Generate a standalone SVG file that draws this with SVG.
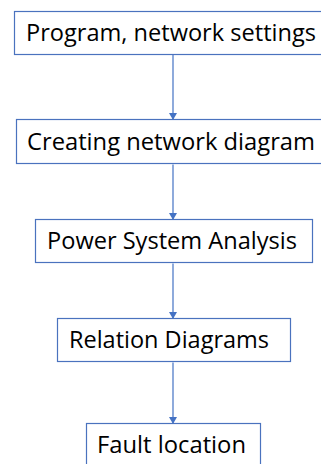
<svg xmlns="http://www.w3.org/2000/svg" width="321" height="464" viewBox="0 0 321 464">
<defs>
<style>
.box{fill:#fff;stroke:#4A72BE;stroke-width:1.2}
.lbl{font-family:"Open Sans","Noto Sans",sans-serif;font-size:23.5px;fill:#000}
.conn{stroke:#4472C4;stroke-width:1.2;fill:none}
</style>
<marker id="ah" markerWidth="7" markerHeight="8" refX="6" refY="4" orient="auto" markerUnits="userSpaceOnUse" viewBox="0 0 7 8">
<path d="M0,0 L7,4 L0,8 Z" fill="#4472C4"/>
</marker>
</defs>
<rect width="321" height="464" fill="#fff"/>
<g id="connectors">
<line class="conn" x1="173" y1="54.5" x2="173" y2="119" marker-end="url(#ah)"/>
<line class="conn" x1="173" y1="164.5" x2="173" y2="219" marker-end="url(#ah)"/>
<line class="conn" x1="173" y1="263.5" x2="173" y2="318" marker-end="url(#ah)"/>
<line class="conn" x1="173" y1="362.5" x2="173" y2="423" marker-end="url(#ah)"/>
</g>
<g id="n1">
<rect class="box" x="14.5" y="11.5" width="320" height="43"/>
<text class="lbl" x="26" y="41" textLength="290" lengthAdjust="spacingAndGlyphs">Program, network settings</text>
</g>
<g id="n2">
<rect class="box" x="16.5" y="119.5" width="320" height="44"/>
<text class="lbl" x="27" y="150" textLength="288" lengthAdjust="spacingAndGlyphs">Creating network diagram</text>
</g>
<g id="n3">
<rect class="box" x="35.5" y="219.5" width="277" height="43"/>
<text class="lbl" x="47" y="249" textLength="250" lengthAdjust="spacingAndGlyphs">Power System Analysis</text>
</g>
<g id="n4">
<rect class="box" x="57.5" y="318.5" width="233" height="43"/>
<text class="lbl" x="69" y="348" textLength="200" lengthAdjust="spacingAndGlyphs">Relation Diagrams</text>
</g>
<g id="n5">
<rect class="box" x="86.5" y="423.5" width="174" height="50"/>
<text class="lbl" x="97" y="453" textLength="149" lengthAdjust="spacingAndGlyphs">Fault location</text>
</g>
</svg>
